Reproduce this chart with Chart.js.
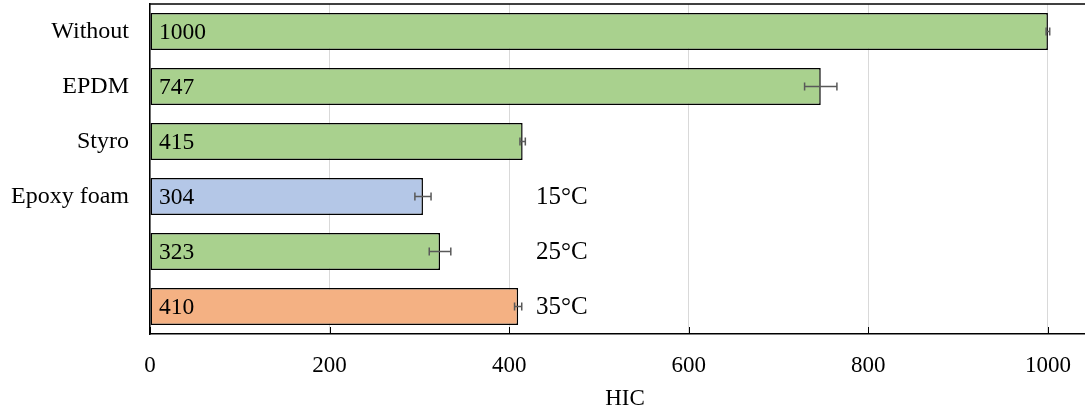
<!DOCTYPE html>
<html><head><meta charset="utf-8">
<script src="https://cdn.jsdelivr.net/npm/chart.js@4"></script>
<style>html,body{margin:0;padding:0;overflow:hidden;background:#fff}#wrap{width:1100px;height:409px}</style>
</head><body><div id="wrap"><canvas id="c" width="1100" height="409"></canvas></div>
<script>
const categories = ["Without", "EPDM", "Styro", "Epoxy foam", "", ""];
const hicValues = [1000, 747, 415, 304, 323, 410];
const hicErrors = [2, 18, 3, 9, 12, 4];
const barColors = ["#A9D18E", "#A9D18E", "#A9D18E", "#B4C7E7", "#A9D18E", "#F4B183"];
const tempLabels = ["", "", "", "15°C", "25°C", "35°C"];
const tickValues = [0, 200, 400, 600, 800, 1000];
const FONT = "'Liberation Serif', 'Times New Roman', serif";

const overlay = {
  id: 'overlay',
  afterDatasetsDraw(chart) {
    const ctx = chart.ctx, xs = chart.scales.x, a = chart.chartArea;
    const meta = chart.getDatasetMeta(0);
    ctx.save();
    ctx.strokeStyle = '#595959'; ctx.lineWidth = 1.5;
    meta.data.forEach((bar, i) => {
      const y = bar.y;
      const x1 = xs.getPixelForValue(hicValues[i] - hicErrors[i]);
      const x2 = xs.getPixelForValue(hicValues[i] + hicErrors[i]);
      ctx.beginPath();
      ctx.moveTo(x1, y); ctx.lineTo(x2, y);
      ctx.moveTo(x1, y - 4); ctx.lineTo(x1, y + 4);
      ctx.moveTo(x2, y - 4); ctx.lineTo(x2, y + 4);
      ctx.stroke();
    });
    ctx.fillStyle = '#000'; ctx.font = '23.5px ' + FONT; ctx.textBaseline = 'middle'; ctx.textAlign = 'left';
    meta.data.forEach((bar, i) => {
      ctx.fillText(String(hicValues[i]), a.left + 9, bar.y + 1.5);
    });
    ctx.font = '25px ' + FONT;
    meta.data.forEach((bar, i) => {
      if (tempLabels[i]) ctx.fillText(tempLabels[i], xs.getPixelForValue(430), bar.y + 1);
    });
    ctx.strokeStyle = '#000'; ctx.lineWidth = 1.5;
    ctx.beginPath(); ctx.moveTo(a.left, a.top); ctx.lineTo(a.right, a.top); ctx.stroke();
    ctx.lineWidth = 1;
    tickValues.forEach(v => {
      const x = Math.round(xs.getPixelForValue(v)) + 0.5;
      ctx.beginPath(); ctx.moveTo(x, a.bottom - 7); ctx.lineTo(x, a.bottom); ctx.stroke();
    });
    ctx.restore();
  }
};

new Chart(document.getElementById('c'), {
  type: 'bar',
  data: {
    labels: categories,
    datasets: [{
      data: hicValues,
      backgroundColor: barColors,
      borderColor: '#000',
      borderWidth: 1.5,
      borderSkipped: false,
      categoryPercentage: 1,
      barPercentage: 0.67
    }]
  },
  options: {
    indexAxis: 'y',
    responsive: false,
    animation: false,
    devicePixelRatio: 1,
    layout: { padding: { top: 4, right: 0, left: 0, bottom: 0 } },
    plugins: { legend: { display: false }, tooltip: { enabled: false } },
    scales: {
      x: {
        min: 0, max: 1058,
        afterBuildTicks: s => { s.ticks = tickValues.map(v => ({ value: v })); },
        afterFit: s => { s.height = 75; s.paddingTop = 0; s.paddingBottom = 0; },
        grid: { color: '#d9d9d9', lineWidth: 1, drawTicks: false },
        border: { color: '#000', width: 1.5 },
        ticks: { color: '#000', font: { family: FONT, size: 23 }, padding: 18, maxRotation: 0, callback: v => String(v) },
        title: { display: true, text: 'HIC', color: '#000', font: { family: FONT, size: 23 }, padding: { top: 4, bottom: -4 } }
      },
      y: {
        afterFit: s => { s.width = 150; s.paddingTop = 0; s.paddingBottom = 0; },
        grid: { display: false, drawTicks: false },
        border: { color: '#000', width: 1.5 },
        ticks: { color: '#000', font: { family: FONT, size: 24 }, padding: 21 }
      }
    }
  },
  plugins: [overlay]
});
</script></body></html>
